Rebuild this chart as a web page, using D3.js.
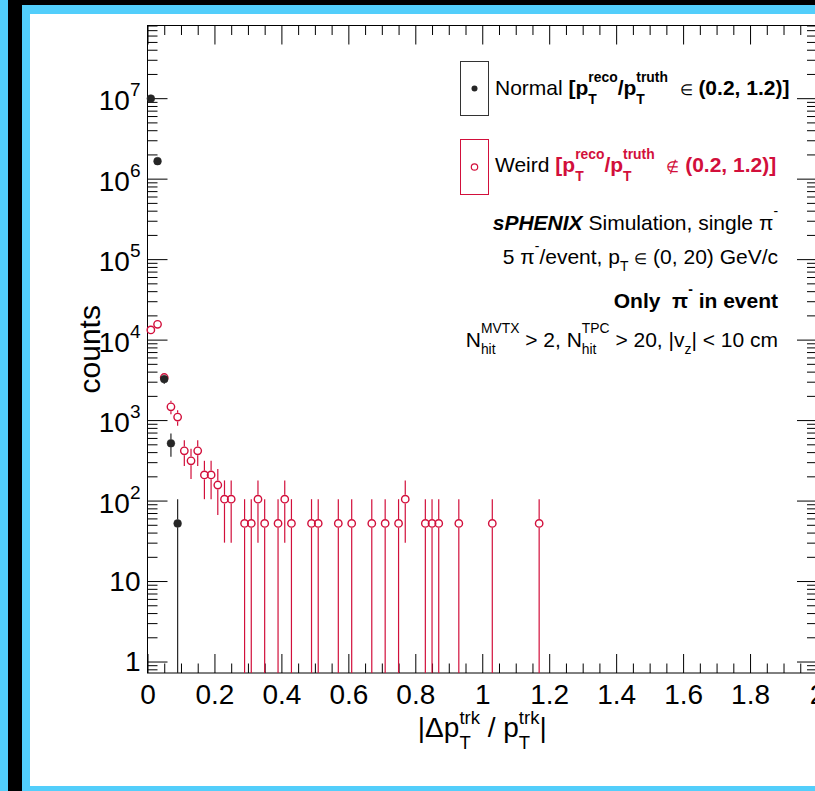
<!DOCTYPE html>
<html>
<head>
<meta charset="utf-8">
<script src="https://cdn.jsdelivr.net/npm/d3@7"></script>
<style>
  html, body { margin: 0; padding: 0; background: #000; overflow: hidden; }
  svg { display: block; }
  text { font-family: "Liberation Sans", Arial, Helvetica, sans-serif; white-space: pre; }
</style>
</head>
<body>
<svg id="chart" width="815" height="791"></svg>
<script>
// |delta pT / pT| for reconstructed tracks, bins of width 0.02
const normalX   = [0.01, 0.03, 0.05, 0.07, 0.09];
const normalY   = [9.9e6, 1.65e6, 3230, 515, 52];
const normalErr = [22700, 9260, 410, 164, 52];

const weirdX = [0.01, 0.03, 0.05, 0.07, 0.09, 0.11, 0.13, 0.15, 0.17, 0.19,
                0.21, 0.23, 0.25, 0.29, 0.31, 0.33, 0.35, 0.39, 0.41, 0.43,
                0.49, 0.51, 0.57, 0.61, 0.67, 0.71, 0.75, 0.77, 0.83, 0.85,
                0.87, 0.93, 1.03, 1.17];
const weirdY = [13200, 15500, 3380, 1460, 1090, 415, 312, 415, 208, 208,
                156, 104, 104, 52, 52, 104, 52, 52, 104, 52,
                52, 52, 52, 52, 52, 52, 52, 104, 52, 52,
                52, 52, 52, 52];
const weirdErr = [828, 898, 419, 275, 238, 147, 127, 147, 104, 104,
                  90, 74, 74, 52, 52, 74, 52, 52, 74, 52,
                  52, 52, 52, 52, 52, 52, 52, 74, 52, 52,
                  52, 52, 52, 52];

const xTicks      = [0, 0.2, 0.4, 0.6, 0.8, 1, 1.2, 1.4, 1.6, 1.8, 2];
const xTickLabels = ["0", "0.2", "0.4", "0.6", "0.8", "1", "1.2", "1.4", "1.6", "1.8", "2"];
const yTicks      = [1, 10, 1e2, 1e3, 1e4, 1e5, 1e6, 1e7];
const yTickLabels = ["1", "10", "10^2", "10^3", "10^4", "10^5", "10^6", "10^7"];

const RED = "#d20f3b";
const DARK = "#262626";

const svg = d3.select("#chart");

// canvas window chrome
svg.append("rect").attr("width", 815).attr("height", 791).attr("fill", "#000");
svg.append("rect").attr("x", 0).attr("y", 0).attr("width", 8).attr("height", 791).attr("fill", "#52cefb");
svg.append("rect").attr("x", 22).attr("y", 5).attr("width", 793).attr("height", 786).attr("fill", "#52cefb");
svg.append("rect").attr("x", 30).attr("y", 14).attr("width", 785).attr("height", 772).attr("fill", "#fff");

const L = 147.5, R = 817, T = 25.5, B = 673;
const x = d3.scaleLinear().domain([0, 2]).range([L, R]);
const y = d3.scaleLog().domain([0.72, 8.0e7]).range([B, T]);

// ---- rich text with stacked sub/superscripts ----
function rich(parent, runs, px, py, opt) {
  const size = opt.size;
  const g = parent.append("g");
  let cx = 0;
  const style = (sel, r, s) => sel
    .attr("font-size", s)
    .attr("font-weight", r.b ? "bold" : "normal")
    .attr("font-style", r.i ? "italic" : "normal")
    .attr("fill", r.c || opt.fill || "#000");
  runs.forEach(r => {
    if (r.t != null) {
      const el = style(g.append("text").attr("x", cx).attr("y", 0), r, size * (r.s || 1)).text(r.t);
      cx += el.node().getComputedTextLength();
    } else {
      const ss = size * (opt.scriptScale || 0.66);
      let w = 0;
      if (r.sup != null) {
        const el = style(g.append("text").attr("x", cx).attr("y", -size * (opt.supRise || 0.6)), r, ss).text(r.sup);
        w = Math.max(w, el.node().getComputedTextLength());
      }
      if (r.sub != null) {
        const el = style(g.append("text").attr("x", cx).attr("y", size * (opt.subDrop || 0.42)), r, ss).text(r.sub);
        w = Math.max(w, el.node().getComputedTextLength());
      }
      cx += w;
    }
  });
  const tx = opt.anchor === "end" ? px - cx : opt.anchor === "middle" ? px - cx / 2 : px;
  g.attr("transform", `translate(${tx},${py})`);
  return g;
}

// ---- frame & axes ----
const axes = svg.append("g");
const minorX = d3.range(0, 2.0001, 0.05).filter(v => !xTicks.some(t => Math.abs(t - v) < 1e-6));
const minorY = [];
for (let d = 0.1; d <= 1e7 + 1; d *= 10) for (let k = 2; k <= 9; k++) {
  const v = k * d;
  if (v >= 0.72 && v <= 8.0e7) minorY.push(v);
}

const tickStyle = g => {
  g.select(".domain").remove();
  g.selectAll("line").attr("stroke", "#000").attr("stroke-width", 1);
};

// bottom
axes.append("g").attr("transform", `translate(0,${B})`)
  .call(d3.axisBottom(x).tickValues(minorX).tickSize(-9.5).tickFormat(""))
  .call(tickStyle);
axes.append("g").attr("transform", `translate(0,${B})`)
  .call(d3.axisBottom(x).tickValues(xTicks).tickSize(-19).tickPadding(11)
        .tickFormat((d, i) => xTickLabels[i]))
  .call(tickStyle)
  .call(g => g.selectAll("text").attr("font-size", 28).attr("fill", "#000")
        .attr("font-family", '"Liberation Sans", Arial, sans-serif'));
// top
axes.append("g").attr("transform", `translate(0,${T})`)
  .call(d3.axisTop(x).tickValues(minorX).tickSize(-9.5).tickFormat(""))
  .call(tickStyle);
axes.append("g").attr("transform", `translate(0,${T})`)
  .call(d3.axisTop(x).tickValues(xTicks).tickSize(-19).tickFormat(""))
  .call(tickStyle);
// left
axes.append("g").attr("transform", `translate(${L},0)`)
  .call(d3.axisLeft(y).tickValues(minorY).tickSize(-10).tickFormat(""))
  .call(tickStyle);
axes.append("g").attr("transform", `translate(${L},0)`)
  .call(d3.axisLeft(y).tickValues(yTicks).tickSize(-20).tickFormat(""))
  .call(tickStyle);
// right
axes.append("g").attr("transform", `translate(${R},0)`)
  .call(d3.axisRight(y).tickValues(minorY).tickSize(-10).tickFormat(""))
  .call(tickStyle);
axes.append("g").attr("transform", `translate(${R},0)`)
  .call(d3.axisRight(y).tickValues(yTicks).tickSize(-20).tickFormat(""))
  .call(tickStyle);

axes.append("rect").attr("x", L).attr("y", T).attr("width", R - L).attr("height", B - T)
  .attr("fill", "none").attr("stroke", "#000").attr("stroke-width", 1);

// y tick labels: 1, 10, 10^n
yTicks.forEach((v, i) => {
  const parts = yTickLabels[i].split("^");
  if (parts.length === 1) {
    rich(axes, [{ t: parts[0] }], L - 7, y(v) + 9.5, { size: 28, anchor: "end" });
  } else {
    rich(axes, [{ t: parts[0] }, { sup: parts[1] }], L - 7, y(v) + 12,
         { size: 28, anchor: "end", scriptScale: 0.68, supRise: 0.5 });
  }
});

// axis titles
rich(svg, [{ t: "|Δp" }, { sub: "T", sup: "trk" }, { t: " / p" }, { sub: "T", sup: "trk" }, { t: "|" }],
     (L + R) / 2, 737, { size: 28, anchor: "middle", scriptScale: 0.66, supRise: 0.46, subDrop: 0.42 });
svg.append("text")
  .attr("transform", `translate(100,${(T + B) / 2}) rotate(-90)`)
  .attr("text-anchor", "middle").attr("font-size", 30).text("counts");

// ---- data ----
const plot = svg.append("g");
function series(xs, ys, es, color, radius, filled) {
  const lo = d3.min(y.range()), hi = d3.max(y.range());
  xs.forEach((xv, i) => {
    const cx = x(xv), cy = y(ys[i]);
    const top = y(ys[i] + es[i]);
    const low = ys[i] - es[i] > 0 ? y(ys[i] - es[i]) : hi;
    const gap = radius + (filled ? 0 : 0.7);
    if (top < cy - gap)
      plot.append("line").attr("x1", cx).attr("x2", cx).attr("y1", Math.max(top, lo)).attr("y2", cy - gap)
        .attr("stroke", color).attr("stroke-width", 1.2);
    if (low > cy + gap)
      plot.append("line").attr("x1", cx).attr("x2", cx).attr("y1", cy + gap).attr("y2", Math.min(low, hi))
        .attr("stroke", color).attr("stroke-width", 1.2);
  });
  plot.selectAll(null).data(xs).enter().append("circle")
    .attr("cx", d => x(d)).attr("cy", (d, i) => y(ys[i])).attr("r", radius)
    .attr("fill", filled ? color : "none")
    .attr("stroke", color).attr("stroke-width", filled ? 0.5 : 1.4);
}
series(weirdX, weirdY, weirdErr, RED, 3.7, false);
series(normalX, normalY, normalErr, DARK, 3.9, true);

// ---- legend ----
const leg = svg.append("g");
leg.append("rect").attr("x", 460.5).attr("y", 61.5).attr("width", 28).attr("height", 54)
  .attr("fill", "none").attr("stroke", "#333").attr("stroke-width", 1);
leg.append("circle").attr("cx", 474.5).attr("cy", 88.5).attr("r", 3).attr("fill", DARK);
leg.append("rect").attr("x", 460.5).attr("y", 139.5).attr("width", 28).attr("height", 55)
  .attr("fill", "none").attr("stroke", RED).attr("stroke-width", 1);
leg.append("circle").attr("cx", 474.5).attr("cy", 167).attr("r", 3.2).attr("fill", "none")
  .attr("stroke", RED).attr("stroke-width", 1.2);

const legOpt = { size: 21, anchor: "start", scriptScale: 0.66, supRise: 0.6, subDrop: 0.45 };
rich(leg, [{ t: "Normal " }, { t: "[p", b: 1 }, { sub: "T", sup: "reco", b: 1 }, { t: "/p", b: 1 },
           { sub: "T", sup: "truth", b: 1 }, { t: "  " }, { t: "∈", s: 0.72 }, { t: " " },
           { t: "(0.2, 1.2)]", b: 1 }],
     495, 95, legOpt);
rich(leg, [{ t: "Weird " }, { t: "[p", b: 1, c: RED }, { sub: "T", sup: "reco", b: 1, c: RED },
           { t: "/p", b: 1, c: RED }, { sub: "T", sup: "truth", b: 1, c: RED },
           { t: "  ", c: RED }, { t: "∉", s: 0.72, c: RED }, { t: " ", c: RED },
           { t: "(0.2, 1.2)]", b: 1, c: RED }],
     495, 172, legOpt);

// ---- annotation block ----
const ann = svg.append("g");
const annOpt = { size: 21, anchor: "end", scriptScale: 0.66, supRise: 0.62, subDrop: 0.35 };
rich(ann, [{ t: "sPHENIX", b: 1, i: 1 }, { t: " Simulation, single π" }, { sup: "-" }], 778, 229.5, annOpt);
rich(ann, [{ t: "5 π" }, { sup: "-" }, { t: "/event, p" }, { sub: "T" }, { t: " " }, { t: "∈", s: 0.72 },
           { t: " (0, 20) GeV/c" }], 778, 264, annOpt);
rich(ann, [{ t: "Only  π", b: 1 }, { sup: "-", b: 1 }, { t: " in event", b: 1 }], 778, 307.5, annOpt);
rich(ann, [{ t: "N" }, { sub: "hit", sup: "MVTX" }, { t: " > 2, N" }, { sub: "hit", sup: "TPC" },
           { t: " > 20, |v" }, { sub: "z" }, { t: "| < 10 cm" }], 778, 346.5, annOpt);
</script>
</body>
</html>
